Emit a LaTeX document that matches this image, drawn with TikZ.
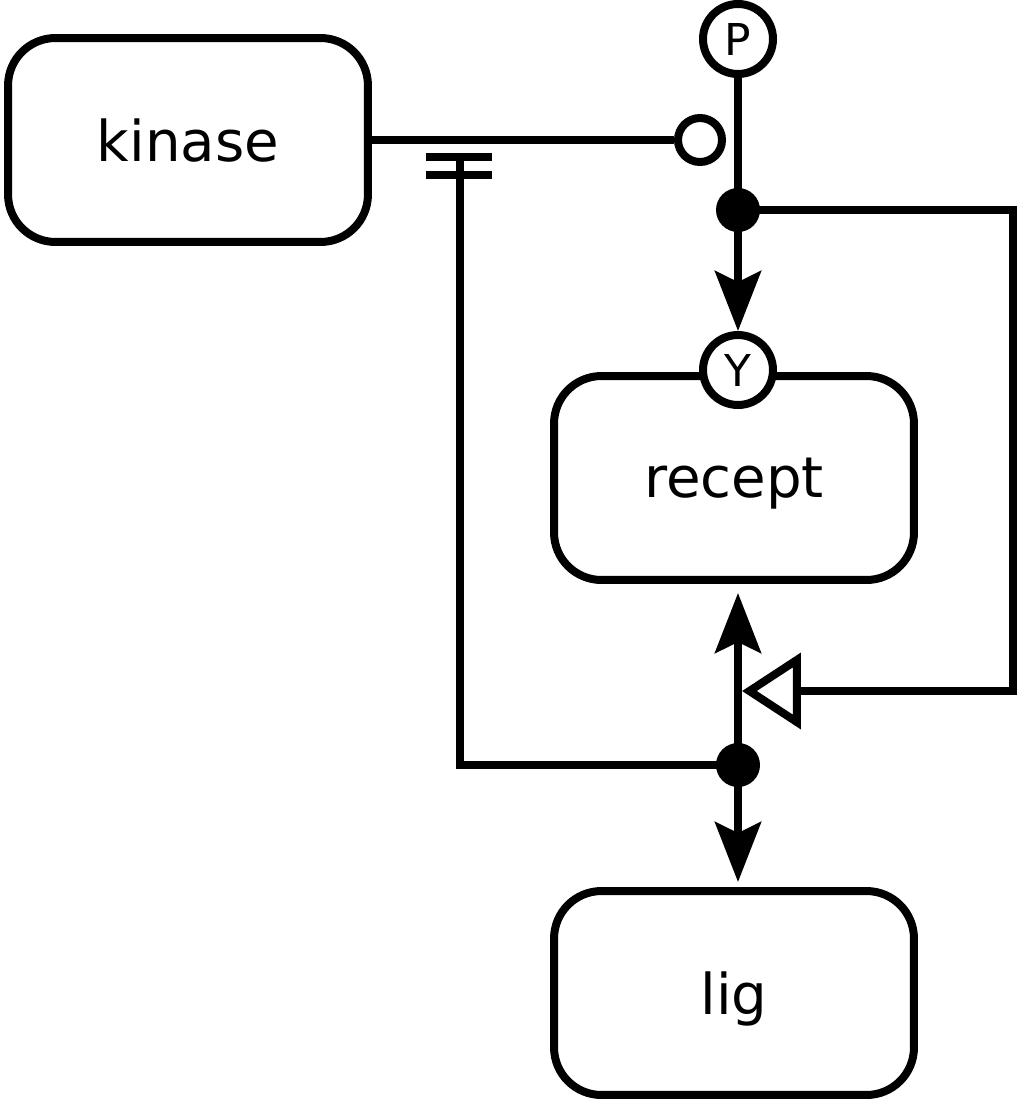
\documentclass[tikz,border=0pt]{standalone}
\usepackage{fontspec}
\setmainfont{DejaVu Sans}
\usetikzlibrary{arrows.meta, calc}
\tikzset{
    my-entity/.style={
        draw, line width=0.16cm, rounded corners=0.95cm, minimum width=7.2cm, minimum height=4.08cm, text depth=0pt, font=\fontsize{32}{38}\selectfont
    },
    my-state/.style={
        draw, circle, fill=white, line width=0.16cm, minimum size=1.4cm, inner sep=0pt, font=\fontsize{25}{30}\selectfont
    },
    my-dot/.style={
        circle, fill=black, minimum size=0.88cm, inner sep=0pt, outer sep=0pt
    },
    my-cat/.style={
        draw, circle, fill=white, line width=0.16cm, minimum size=0.88cm, inner sep=0pt
    },
    mytip/.tip={
        Stealth[length=1.2cm, width=0.92cm, inset=0.22cm]
    },
}

\begin{document}
\begin{tikzpicture}[x=0.02cm, y=-0.02cm, line width=0.16cm]
        \useasboundingbox (0,0) rectangle (1022,1106);

        % ENTITIES
        \node[my-entity] (KINASE) at (188,140)  {kinase};
        \node[my-entity] (RECEPT) at (734,478)  {recept};
        \node[my-entity] (LIG)    at (734,993)  {lig};

        % STATE VARIABLES
        \node[my-state]  (P)      at (738,39)   {P};
        \node[my-state]  (Y)      at (738,370)  {Y};

        % PROCESS DOTS, CATALYSIS CIRCLE, CONNECTOR POINTS
        \node[my-dot]    (DOT1)   at (738,210)  {};
        \node[my-dot]    (DOT2)   at (738,765)  {};
        \node[my-cat]    (CAT)    at (700,140)  {};
        \coordinate[]    (RECOUT) at (738,593);
        \coordinate[]    (LIGIN)  at (738,882);
        \coordinate[]    (CORNER) at (1013,691);
        \coordinate[]    (TRIIN)  at (742,691);
        \coordinate[]    (INHTOP) at (460,157);

        % PHOSPHORYLATION
        \draw (P) -- (DOT1.center);
        \draw[-{mytip}] (DOT1.center) -- (Y);

        % BINDING
        \draw[{mytip}-{mytip}] (RECOUT) -- (LIGIN);

        % CATALYSIS
        \draw (KINASE) -- (CAT);

        % STIMULATION
        \draw[-{Triangle[open, length=1.18cm, width=1.5cm]}] (DOT1.center) -| (CORNER) -- (TRIIN);

        % INHIBITION
        \draw (DOT2.center) -| (INHTOP);
        \draw ($(INHTOP) + (-34,0)$)  -- ++(66,0);
        \draw ($(INHTOP) + (-34,18)$) -- ++(66,0);

    \end{tikzpicture}
\end{document}
